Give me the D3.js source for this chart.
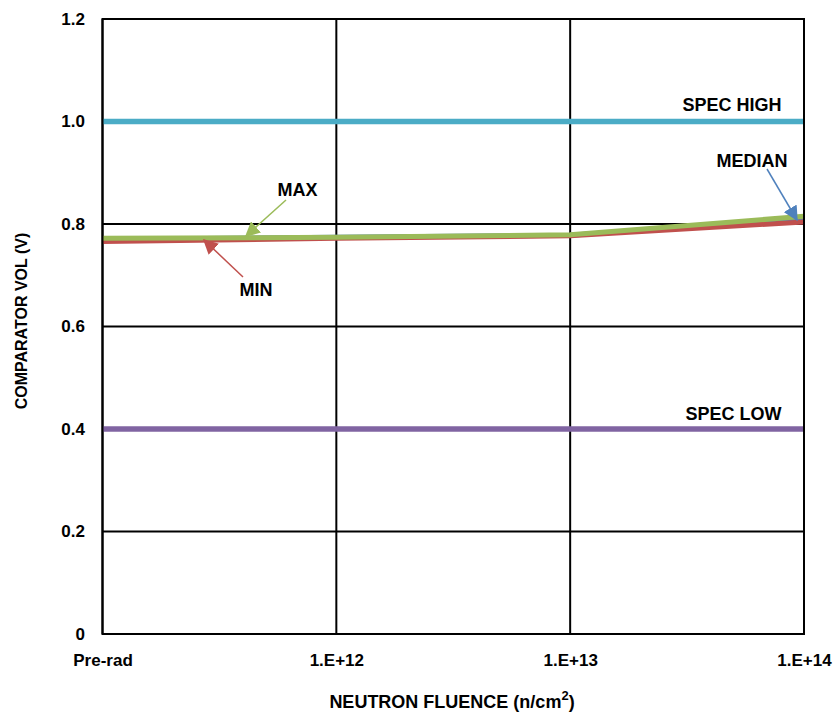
<!DOCTYPE html>
<html><head><meta charset="utf-8">
<script src="https://cdn.jsdelivr.net/npm/d3@7"></script>
<style>body{margin:0;background:#fff}svg{display:block;font-family:"Liberation Sans",Arial,sans-serif;font-weight:bold}</style>
</head><body><svg id="c" width="837" height="715"></svg>
<script>
const categories = ["Pre-rad","1.E+12","1.E+13","1.E+14"];
const maxVals = [0.772, 0.774, 0.779, 0.815];
const medianVals = [0.770, 0.774, 0.778, 0.809];
const minVals = [0.766, 0.772, 0.777, 0.804];
const specHigh = 1.0;
const specLow = 0.4;
const yTicks = [0,0.2,0.4,0.6,0.8,1.0,1.2];

const svg = d3.select("#c");
const L=102.5,R=804,T=19,B=634;
const x = d3.scalePoint().domain(categories).range([L,R]);
const y = d3.scaleLinear().domain([0,1.2]).range([B,T]);

// grid
svg.append("g").selectAll("line").data(yTicks).join("line")
  .attr("x1",L).attr("x2",R).attr("y1",d=>y(d)).attr("y2",d=>y(d))
  .attr("stroke","#000").attr("stroke-width",2);
svg.append("g").selectAll("line").data(categories).join("line")
  .attr("x1",d=>x(d)).attr("x2",d=>x(d)).attr("y1",T).attr("y2",B)
  .attr("stroke","#000").attr("stroke-width",2);

// axes labels
const yAxis = d3.axisLeft(y).tickValues(yTicks).tickSize(0).tickPadding(17.5)
  .tickFormat(d=>d===0?"0":d3.format(".1f")(d));
const ga = svg.append("g").attr("transform",`translate(${L},0)`).call(yAxis);
ga.select(".domain").remove();
ga.selectAll("text").attr("font-size",17).attr("font-weight","bold").attr("fill","#000").attr("font-family","Liberation Sans, Arial, sans-serif");
const xAxis = d3.axisBottom(x).tickSize(0).tickPadding(20);
const gx = svg.append("g").attr("transform",`translate(0,${B})`).call(xAxis);
gx.select(".domain").remove();
gx.selectAll("text").attr("font-size",17).attr("font-weight","bold").attr("fill","#000").attr("font-family","Liberation Sans, Arial, sans-serif");

// spec lines
svg.append("line").attr("x1",L).attr("x2",R).attr("y1",y(specHigh)).attr("y2",y(specHigh))
  .attr("stroke","#4BACC6").attr("stroke-width",5.5);
svg.append("line").attr("x1",L).attr("x2",R).attr("y1",y(specLow)).attr("y2",y(specLow))
  .attr("stroke","#8064A2").attr("stroke-width",5.5);

const line = d3.line().x((d,i)=>x(categories[i])).y(d=>y(d));
[[medianVals,"#4F81BD"],[minVals,"#C0504D"],[maxVals,"#9BBB59"]].forEach(([v,c])=>{
  svg.append("path").attr("d",line(v)).attr("fill","none").attr("stroke",c).attr("stroke-width",5);
});

// border
svg.append("rect").attr("x",L).attr("y",T).attr("width",R-L).attr("height",B-T)
  .attr("fill","none").attr("stroke","#000").attr("stroke-width",2);

// arrows
const defs = svg.append("defs");
function marker(id,c){
  defs.append("marker").attr("id",id).attr("viewBox","0 0 10 10").attr("refX",9).attr("refY",5)
    .attr("markerWidth",15).attr("markerHeight",15).attr("markerUnits","userSpaceOnUse").attr("orient","auto")
    .append("path").attr("d","M0,0 L10,5 L0,10 z").attr("fill",c);
}
marker("mb","#4F81BD");marker("mg","#9BBB59");marker("mr","#C0504D");
function arrow(x1,y1,x2,y2,c,m){
  svg.append("line").attr("x1",x1).attr("y1",y1).attr("x2",x2).attr("y2",y2)
   .attr("stroke",c).attr("stroke-width",1.5).attr("marker-end",`url(#${m})`);
}
arrow(767,169,797,220,"#4F81BD","mb");
arrow(286,200,246,236,"#9BBB59","mg");
arrow(243,277,204,240,"#C0504D","mr");

// annotation text
function txt(t,xx,yy){
  svg.append("text").attr("x",xx).attr("y",yy).attr("text-anchor","middle")
   .attr("font-size",18).attr("fill","#000").text(t);
}
txt("SPEC HIGH",732,111);
txt("SPEC LOW",733.5,420);
txt("MEDIAN",752,167);
txt("MAX",297.5,196);
txt("MIN",256,296);

// axis titles
svg.append("text").attr("transform","translate(27,321) rotate(-90)").attr("text-anchor","middle")
  .attr("font-size",16).text("COMPARATOR VOL (V)");
const xt = svg.append("text").attr("x",452).attr("y",708).attr("text-anchor","middle").attr("font-size",18);
xt.append("tspan").text("NEUTRON FLUENCE (n/cm");
xt.append("tspan").attr("dy",-8).attr("font-size",13).text("2");
xt.append("tspan").attr("dy",8).text(")");
</script></body></html>
